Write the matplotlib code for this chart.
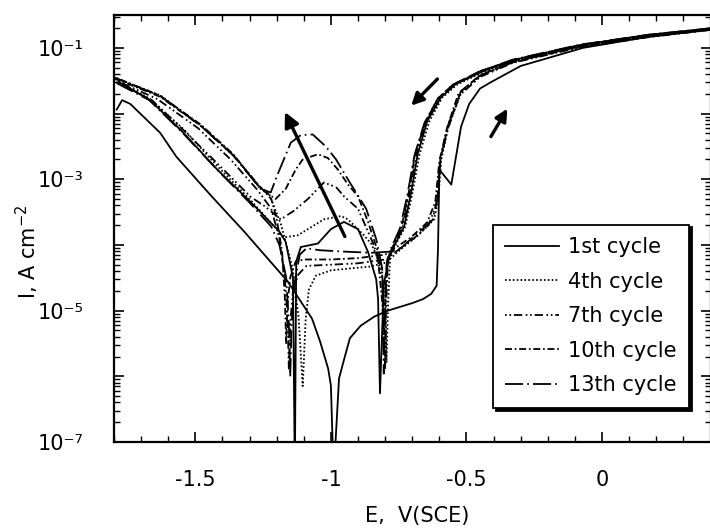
import matplotlib
matplotlib.use("Agg")
import matplotlib.pyplot as plt
from matplotlib.ticker import LogLocator, MultipleLocator, FuncFormatter, NullFormatter
import numpy as np

plt.rcParams['font.family'] = ['DejaVu Sans']
plt.rcParams['mathtext.fontset'] = 'dejavusans'
plt.rcParams['axes.unicode_minus'] = False
plt.rcParams['lines.scale_dashes'] = False

# ---- data: E in V(SCE), I in A cm-2 ----
# 1st cycle
E1_fwd = [-1.79, -1.77, -1.74, -1.63, -1.57, -1.44, -1.32, -1.16, -1.07, -1.04, -1.01, -1.0, -0.99,
          -0.97, -0.95, -0.93, -0.89, -0.84, -0.79, -0.70, -0.66, -0.63, -0.61, -0.605, -0.60, -0.556,
          -0.52, -0.49, -0.45, -0.41, -0.30, -0.07, 0.17, 0.41]
I1_fwd = [1.15e-2, 1.6e-2, 1.4e-2, 5.1e-3, 2.2e-3, 5.5e-4, 1.6e-4, 2.8e-5, 7.6e-6, 3.4e-6, 1.3e-6, 7.2e-7, 3e-8,
          9.3e-7, 1.9e-6, 3.8e-6, 5.9e-6, 8.1e-6, 1.0e-5, 1.3e-5, 1.5e-5, 1.8e-5, 2.4e-5, 8.7e-5, 1.4e-3, 8.3e-4,
          6.3e-3, 1.4e-2, 2.4e-2, 3.0e-2, 5.3e-2, 0.1, 0.147, 0.19]
E1_rev = [0.41, 0.17, -0.07, -0.32, -0.44, -0.54, -0.595, -0.645, -0.68, -0.705, -0.73, -0.765, -0.785,
          -0.805, -0.819, -0.826, -0.833, -0.863, -0.90, -0.952, -1.0, -1.048, -1.111, -1.128, -1.133,
          -1.14, -1.167, -1.196, -1.211, -1.296, -1.419, -1.544, -1.667, -1.778]
I1_rev = [0.2, 0.158, 0.112, 0.066, 0.044, 0.028, 0.0174, 7.6e-3, 2.4e-3, 6.0e-4, 1.9e-4, 1.0e-4, 6.6e-5,
          2.5e-5, 5.5e-7, 1.5e-5, 3.0e-5, 7.8e-5, 1.74e-4, 2.24e-4, 1.74e-4, 1.05e-4, 9.3e-5, 5.6e-5, 3e-8,
          3.2e-5, 1.12e-4, 1.74e-4, 1.95e-4, 4.5e-4, 1.4e-3, 5.1e-3, 1.6e-2, 2.95e-2]

# 4th cycle
E4_fwd = [-1.80, -1.63, -1.48, -1.36, -1.26, -1.23, -1.185, -1.141, -1.119, -1.104, -1.093, -1.081, -1.056,
          -1.0, -0.926, -0.852, -0.796, -0.741, -0.678, -0.619, -0.604, -0.593, -0.567, -0.519, -0.444,
          -0.322, -0.074, 0.174, 0.41]
I4_fwd = [3.55e-2, 1.9e-2, 6.6e-3, 2.35e-3, 7.4e-4, 6.3e-4, 2.1e-4, 4.4e-5, 7.6e-6, 7.1e-7, 7.6e-6, 2.1e-5, 3.4e-5,
          4.1e-5, 4.4e-5, 4.7e-5, 5.4e-5, 8.7e-5, 1.4e-4, 2.45e-4, 5.0e-4, 2.0e-3, 6.3e-3, 2.1e-2, 3.9e-2,
          6.2e-2, 0.107, 0.151, 0.195]
E4_rev = [0.41, 0.174, -0.074, -0.322, -0.44, -0.535, -0.59, -0.637, -0.673, -0.70, -0.726, -0.762, -0.782,
          -0.79, -0.795, -0.80, -0.833, -0.852, -0.878, -0.937, -0.963, -1.026, -1.122, -1.174, -1.211,
          -1.30, -1.42, -1.54, -1.67, -1.79]
I4_rev = [0.19, 0.148, 0.105, 0.063, 0.0427, 0.0275, 0.0174, 7.6e-3, 2.4e-3, 6.0e-4, 1.9e-4, 1.0e-4, 6.3e-5,
          1.0e-5, 1.6e-6, 2.1e-5, 7.2e-5, 1.05e-4, 1.4e-4, 2.45e-4, 2.75e-4, 2.45e-4, 1.4e-4, 1.3e-4, 1.95e-4,
          5.0e-4, 1.6e-3, 5.6e-3, 1.7e-2, 3.16e-2]

# 7th cycle
E7_fwd = [-1.80, -1.64, -1.49, -1.37, -1.27, -1.22, -1.19, -1.17, -1.16, -1.155, -1.15, -1.14, -1.12, -1.09,
          -1.0, -0.90, -0.80, -0.76, -0.70, -0.64, -0.612, -0.598, -0.57, -0.525, -0.45, -0.33, -0.08, 0.17, 0.41]
I7_fwd = [3.3e-2, 1.66e-2, 6.0e-3, 2.0e-3, 6.8e-4, 3.55e-4, 1.26e-4, 3.2e-5, 7.9e-6, 1.26e-6, 6.3e-6, 2.0e-5,
          3.55e-5, 4.8e-5, 5.0e-5, 5.25e-5, 6.0e-5, 7.9e-5, 1.2e-4, 2.0e-4, 4.0e-4, 1.8e-3, 5.6e-3, 1.9e-2,
          3.6e-2, 5.9e-2, 0.102, 0.145, 0.19]
E7_rev = [0.41, 0.17, -0.08, -0.33, -0.45, -0.545, -0.60, -0.648, -0.685, -0.71, -0.735, -0.77, -0.79, -0.797,
          -0.80, -0.805, -0.811, -0.844, -0.90, -0.952, -0.981, -1.026, -1.085, -1.137, -1.185, -1.241, -1.296,
          -1.41, -1.54, -1.66, -1.79]
I7_rev = [0.195, 0.155, 0.11, 0.065, 0.044, 0.028, 0.0174, 7.6e-3, 2.4e-3, 6.0e-4, 1.9e-4, 9.5e-5, 5.6e-5, 1.0e-5,
          1.26e-6, 1.0e-5, 4.1e-5, 1.05e-4, 3.55e-4, 5.5e-4, 7.6e-4, 8.9e-4, 5.0e-4, 3.3e-4, 2.45e-4, 3.8e-4, 5.4e-4,
          1.6e-3, 5.4e-3, 1.6e-2, 3.0e-2]

# 10th cycle
E10_fwd = [-1.80, -1.63, -1.48, -1.36, -1.26, -1.22, -1.20, -1.18, -1.17, -1.165, -1.16, -1.15, -1.13, -1.10,
           -1.0, -0.90, -0.80, -0.765, -0.705, -0.645, -0.615, -0.60, -0.572, -0.53, -0.455, -0.33, -0.08, 0.17, 0.41]
I10_fwd = [3.45e-2, 1.8e-2, 6.5e-3, 2.3e-3, 7.6e-4, 5.0e-4, 2.5e-4, 7.9e-5, 1.6e-5, 3.2e-6, 1.26e-5, 3.2e-5,
           5.6e-5, 6.0e-5, 6.0e-5, 6.3e-5, 7.1e-5, 8.9e-5, 1.3e-4, 2.2e-4, 4.5e-4, 1.9e-3, 6.0e-3, 2.0e-2, 3.7e-2,
           6.0e-2, 0.105, 0.148, 0.195]
E10_rev = [0.41, 0.17, -0.08, -0.33, -0.455, -0.55, -0.605, -0.652, -0.69, -0.714, -0.74, -0.772, -0.792, -0.80,
           -0.804, -0.81, -0.83, -0.863, -0.90, -0.937, -0.974, -1.011, -1.048, -1.104, -1.13, -1.167, -1.204,
           -1.259, -1.36, -1.48, -1.63, -1.80]
I10_rev = [0.195, 0.155, 0.11, 0.065, 0.0427, 0.0275, 0.017, 7.4e-3, 2.35e-3, 5.9e-4, 1.86e-4, 9.3e-5, 6.0e-5,
           1.26e-5, 2.5e-6, 1.26e-5, 8.7e-5, 2.24e-4, 5.5e-4, 8.3e-4, 1.4e-3, 2.1e-3, 2.4e-3, 2.0e-3, 1.4e-3,
           7.1e-4, 5.0e-4, 7.1e-4, 2.4e-3, 6.8e-3, 1.86e-2, 3.6e-2]

# 13th cycle
E13_fwd = [-1.79, -1.67, -1.545, -1.42, -1.30, -1.22, -1.19, -1.165, -1.155, -1.15, -1.145, -1.135, -1.115,
           -1.09, -1.04, -0.95, -0.85, -0.78, -0.74, -0.685, -0.625, -0.608, -0.595, -0.568, -0.52, -0.45, -0.33,
           -0.08, 0.17, 0.41]
I13_fwd = [2.9e-2, 1.6e-2, 5.0e-3, 1.4e-3, 4.4e-4, 1.9e-4, 1.0e-4, 3.2e-5, 6.3e-6, 1.0e-6, 6.3e-6, 2.5e-5, 7.1e-5,
           8.9e-5, 8.3e-5, 7.9e-5, 7.6e-5, 7.9e-5, 9.1e-5, 1.45e-4, 2.4e-4, 4.8e-4, 2.1e-3, 6.6e-3, 2.2e-2, 3.8e-2,
           6.2e-2, 0.107, 0.151, 0.195]
E13_rev = [0.41, 0.17, -0.08, -0.33, -0.45, -0.55, -0.605, -0.655, -0.692, -0.718, -0.745, -0.778, -0.795, -0.80,
           -0.805, -0.811, -0.833, -0.870, -0.933, -0.981, -1.019, -1.067, -1.111, -1.148, -1.196, -1.222, -1.259,
           -1.36, -1.48, -1.63, -1.80]
I13_rev = [0.2, 0.158, 0.112, 0.066, 0.044, 0.0275, 0.017, 7.2e-3, 2.3e-3, 5.75e-4, 1.8e-4, 8.9e-5, 5.0e-5, 1.0e-5,
           1.1e-6, 4.4e-5, 1.23e-4, 3.55e-4, 9.3e-4, 2.0e-3, 3.16e-3, 4.8e-3, 4.7e-3, 3.6e-3, 1.2e-3, 6.3e-4, 7.1e-4,
           2.3e-3, 6.5e-3, 1.86e-2, 3.55e-2]

labels = ["1st cycle", "4th cycle", "7th cycle", "10th cycle", "13th cycle"]
styles = ['-', (0, (1.2, 1.6)), (0, (1.2, 2, 1.2, 2, 6, 2.5)), (0, (5, 2, 1.2, 2)), (0, (13, 3, 1.2, 3))]
branches = [(E1_fwd, I1_fwd, E1_rev, I1_rev), (E4_fwd, I4_fwd, E4_rev, I4_rev),
            (E7_fwd, I7_fwd, E7_rev, I7_rev), (E10_fwd, I10_fwd, E10_rev, I10_rev),
            (E13_fwd, I13_fwd, E13_rev, I13_rev)]

fig = plt.figure(figsize=(7.1, 5.28), dpi=100)
ax = fig.add_axes([114/710, 86/528, 596.5/710, 427/528])

handles = []
for lab, ls, (ef, i_f, er, ir) in zip(labels, styles, branches):
    h, = ax.plot(ef, i_f, color='k', ls=ls, lw=1.3, label=lab)
    ax.plot(er, ir, color='k', ls=ls, lw=1.3)
    handles.append(h)

ax.set_yscale('log')
ax.set_xlim(-1.8, 0.4)
ax.set_ylim(1e-7, 10**-0.5)

SUP = str.maketrans('-0123456789', '⁻⁰¹²³⁴⁵⁶⁷⁸⁹')

def ylab(v, pos):
    e = int(round(np.log10(v)))
    return '10' + str(e).translate(SUP) if e % 2 else ''

ax.yaxis.set_major_locator(LogLocator(base=10, numticks=20))
ax.yaxis.set_minor_locator(LogLocator(base=10, subs=np.arange(2, 10), numticks=20))
ax.yaxis.set_major_formatter(FuncFormatter(ylab))
ax.yaxis.set_minor_formatter(NullFormatter())
ax.xaxis.set_major_locator(MultipleLocator(0.5))
ax.xaxis.set_minor_locator(MultipleLocator(0.1))
ax.xaxis.set_major_formatter(FuncFormatter(lambda v, p: '%g' % v))

ax.tick_params(which='both', direction='in', top=True, right=True, labelsize=15)
ax.tick_params(which='major', length=7, width=1.2)
ax.tick_params(which='minor', length=4, width=1.0)
ax.tick_params(axis='x', pad=20)
ax.tick_params(axis='y', pad=22)
for s in ax.spines.values():
    s.set_linewidth(1.6)

fig.text(417/710, 1 - 516/528, 'E,  V(SCE)', ha='center', va='center', fontsize=15)
fig.text(27/710, 1 - 252/528, 'I, A cm$^{-2}$', ha='center', va='center', rotation=90, fontsize=15)

# arrows
ax.annotate('', xy=(-1.174, 1.15e-2), xytext=(-0.944, 1.23e-4),
            arrowprops=dict(arrowstyle='-|>', lw=2.4, color='k', mutation_scale=22))
ax.annotate('', xy=(-0.711, 1.23e-2), xytext=(-0.600, 3.6e-2),
            arrowprops=dict(arrowstyle='-|>', lw=2.4, color='k', mutation_scale=18))
ax.annotate('', xy=(-0.344, 1.29e-2), xytext=(-0.415, 4.1e-3),
            arrowprops=dict(arrowstyle='-|>', lw=2.4, color='k', mutation_scale=18))

leg = ax.legend(handles=handles, loc='lower left', bbox_to_anchor=(0.635, 0.08), fontsize=15,
                frameon=True, fancybox=False, shadow={'color': 'k', 'alpha': 1},
                edgecolor='k', handlelength=2.6, handletextpad=0.4, labelspacing=0.7,
                borderpad=0.6, borderaxespad=0)
leg.get_frame().set_linewidth(1.3)
leg.get_frame().set_alpha(1)

fig.savefig('out.png', dpi=100)
